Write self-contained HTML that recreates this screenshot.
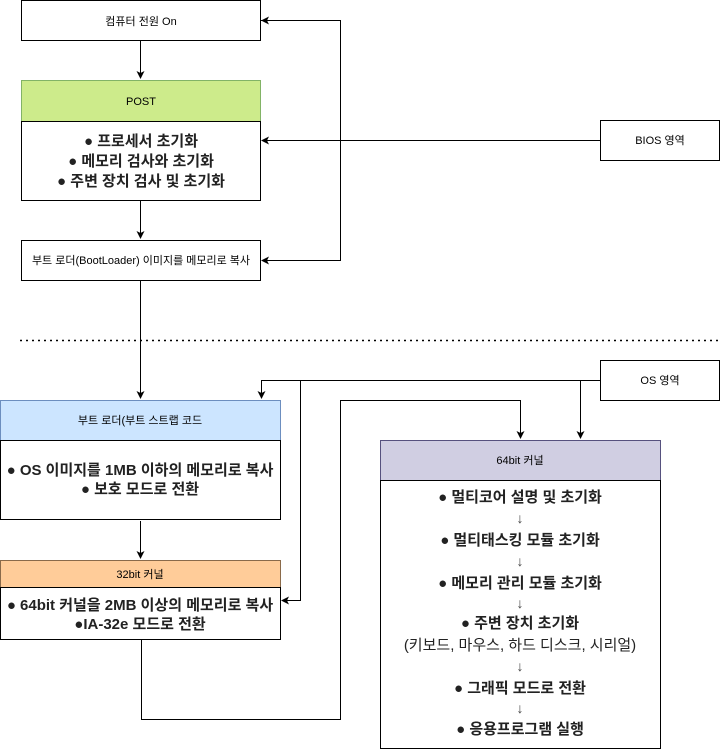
<!DOCTYPE html>
<html><head><meta charset="utf-8"><style>
body{margin:0;background:#fff;}
svg text{font-family:"Liberation Sans","Noto Sans CJK KR",sans-serif;fill:#000;}
.b{font-weight:bold;font-size:15px;fill:#222;}
.n{font-weight:normal;font-size:15px;fill:#222;}
.ar{font-weight:normal;font-size:14px;fill:#444;}
.s{font-size:11px;}
</style></head><body>
<svg width="723" height="749" viewBox="0 0 723 749" xmlns="http://www.w3.org/2000/svg">
<defs><marker id="a" markerWidth="8" markerHeight="8" refX="7" refY="4" orient="auto" markerUnits="userSpaceOnUse"><path d="M0,0 L8,4 L0,8 L2,4 z" fill="#000"/></marker></defs>
<g fill="none" stroke="#000" stroke-width="1">
<rect x="21.5" y="0.5" width="239" height="40"/>
<rect x="21.5" y="80.5" width="239" height="41" fill="#cdeb8b" stroke="#82b366"/>
<rect x="21.5" y="121.5" width="239" height="79"/>
<rect x="21.5" y="240.5" width="239" height="40"/>
<rect x="600.5" y="120.5" width="119" height="40"/>
<rect x="0.5" y="400.5" width="280" height="40" fill="#cce5ff" stroke="#6c8ebf"/>
<rect x="0.5" y="440.5" width="280" height="79"/>
<rect x="0.5" y="560.5" width="280" height="27" fill="#ffcc99" stroke="#8a6a4a"/>
<rect x="0.5" y="587.5" width="280" height="52"/>
<rect x="600.5" y="360.5" width="119" height="40"/>
<rect x="380.5" y="440.5" width="280" height="40" fill="#d0cee2" stroke="#56517e"/>
<rect x="380.5" y="480.5" width="280" height="268"/>
<line x1="140.5" y1="41" x2="140.5" y2="78" marker-end="url(#a)"/>
<line x1="140.5" y1="201" x2="140.5" y2="238" marker-end="url(#a)"/>
<polyline points="261,20.5 340.5,20.5 340.5,260.5 262,260.5" marker-end="url(#a)"/>
<line x1="340.5" y1="20.5" x2="262" y2="20.5" marker-end="url(#a)"/>
<line x1="600" y1="140.5" x2="262" y2="140.5" marker-end="url(#a)"/>
<line x1="20" y1="340.5" x2="720" y2="340.5" stroke-dasharray="2,4" stroke-width="1.5"/>
<line x1="140.5" y1="281" x2="140.5" y2="398" marker-end="url(#a)"/>
<polyline points="600,380.5 261.5,380.5 261.5,398" marker-end="url(#a)"/>
<polyline points="300.5,380.5 300.5,600.5 282,600.5" marker-end="url(#a)"/>
<polyline points="580.5,380.5 580.5,438" marker-end="url(#a)"/>
<line x1="140.5" y1="521" x2="140.5" y2="558" marker-end="url(#a)"/>
<polyline points="141.5,640 141.5,719.5 340.5,719.5 340.5,400.5 520.5,400.5 520.5,438" marker-end="url(#a)"/>
</g>
<g text-anchor="middle">
<text class="s" x="141" y="25">컴퓨터 전원 On</text>
<text class="s" x="141" y="105">POST</text>
<text class="b" x="141" y="146">● 프로세서 초기화</text>
<text class="b" x="141" y="166">● 메모리 검사와 초기화</text>
<text class="b" x="141" y="186">● 주변 장치 검사 및 초기화</text>
<text class="s" x="141" y="264" font-size="10.5">부트 로더(BootLoader) 이미지를 메모리로 복사</text>
<text class="s" x="660" y="144">BIOS 영역</text>
<text class="s" x="660" y="384">OS 영역</text>
<text class="s" x="140" y="424">부트 로더(부트 스트랩 코드</text>
<text class="b" x="140" y="475">● OS 이미지를 1MB 이하의 메모리로 복사</text>
<text class="b" x="140" y="494">● 보호 모드로 전환</text>
<text class="s" x="140" y="578">32bit 커널</text>
<text class="b" x="140" y="610">● 64bit 커널을 2MB 이상의 메모리로 복사</text>
<text class="b" x="140" y="629">●IA-32e 모드로 전환</text>
<text class="s" x="520" y="464">64bit 커널</text>
<text class="b" x="520" y="502">● 멀티코어 설명 및 초기화</text>
<text class="ar" x="520" y="523">↓</text>
<text class="b" x="520" y="545">● 멀티태스킹 모듈 초기화</text>
<text class="ar" x="520" y="566">↓</text>
<text class="b" x="520" y="588">● 메모리 관리 모듈 초기화</text>
<text class="ar" x="520" y="608">↓</text>
<text class="b" x="520" y="628">● 주변 장치 초기화</text>
<text class="n" x="520" y="650">(키보드, 마우스, 하드 디스크, 시리얼)</text>
<text class="ar" x="520" y="671">↓</text>
<text class="b" x="520" y="693">● 그래픽 모드로 전환</text>
<text class="ar" x="520" y="713">↓</text>
<text class="b" x="520" y="734">● 응용프로그램 실행</text>
</g>
</svg>
</body></html>
